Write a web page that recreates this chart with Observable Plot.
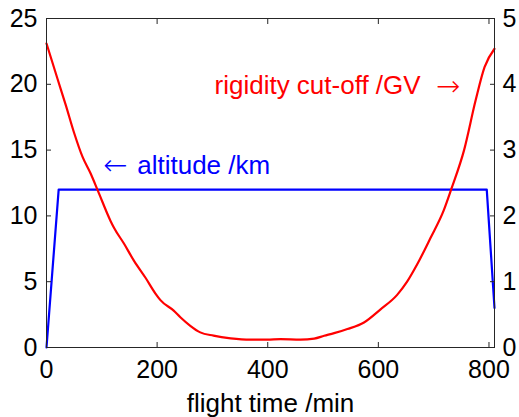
<!DOCTYPE html>
<html>
<head>
<meta charset="utf-8">
<script src="https://cdn.jsdelivr.net/npm/d3@7"></script>
<script src="https://cdn.jsdelivr.net/npm/@observablehq/plot@0.6"></script>
<style>
  html, body { margin: 0; padding: 0; background: #fff; }
  #chart { width: 519px; height: 417px; }
</style>
</head>
<body>
<div id="chart"></div>
<script>
// Flight altitude (km) vs flight time (min)
const altTime = [0, 22, 796, 810];
const altKm   = [0, 12, 12, 3.0];

// Rigidity cut-off (GV) vs flight time (min)
const rigTime = [0, 20, 35, 50, 65, 80, 93, 116, 122, 140, 158, 179, 197, 206, 230, 242, 260, 278, 302, 333, 369, 399, 423, 459, 484, 502, 520, 544, 574, 604, 634, 652, 670, 694, 718, 732, 755, 776, 792, 810];
const rigGV   = [4.62, 4.08, 3.68, 3.26, 2.9, 2.64, 2.38, 1.92, 1.82, 1.58, 1.32, 1.06, 0.82, 0.72, 0.56, 0.46, 0.33, 0.23, 0.18, 0.14, 0.12, 0.12, 0.128, 0.12, 0.136, 0.178, 0.218, 0.28, 0.38, 0.58, 0.8, 1.0, 1.26, 1.66, 2.08, 2.41, 3.0, 3.76, 4.26, 4.54];

const xTicks = [0, 200, 400, 600, 800];
const yLeftTicks = [0, 5, 10, 15, 20, 25];
const gvToKm = 5; // right axis 0–5 GV spans left axis 0–25 km

const altitude = altTime.map((t, i) => ({t, v: altKm[i]}));
const rigidity = rigTime.map((t, i) => ({t, v: rigGV[i]}));

const font = "'Liberation Sans', Arial, Helvetica, sans-serif";
const arrowFont = "'DejaVu Sans', sans-serif";

const chart = Plot.plot({
  width: 519,
  height: 417,
  marginLeft: 46,
  marginRight: 25,
  marginTop: 18,
  marginBottom: 70,
  style: {fontFamily: font, fontSize: "25px", background: "white", color: "#000"},
  x: {domain: [0, 810]},
  y: {domain: [0, 25]},
  marks: [
    Plot.line(altitude, {x: "t", y: "v", stroke: "#0000ff", strokeWidth: 2.2}),
    Plot.line(rigidity, {x: "t", y: d => d.v * gvToKm, stroke: "#ff0000", strokeWidth: 2.2, curve: "monotone-x"}),
    Plot.frame({stroke: "#262626"}),
    // inward ticks
    Plot.axisX(xTicks, {anchor: "bottom", tickSize: 5, dy: -5, fill: "none", label: null, stroke: "#262626"}),
    Plot.axisX(xTicks, {anchor: "top", tickSize: 5, dy: 5, fill: "none", label: null, stroke: "#262626"}),
    Plot.axisY(yLeftTicks, {anchor: "left", tickSize: 5, dx: 5, fill: "none", label: null, stroke: "#262626"}),
    Plot.axisY(yLeftTicks, {anchor: "right", tickSize: 5, dx: -5, fill: "none", label: null, stroke: "#262626"}),
    // tick labels
    Plot.axisX(xTicks, {anchor: "bottom", tickSize: 0, tickPadding: 13, label: null, fontSize: 25}),
    Plot.axisY(yLeftTicks, {anchor: "left", tickSize: 0, tickPadding: 9, label: null, fontSize: 25}),
    Plot.axisY(yLeftTicks, {anchor: "right", tickSize: 0, tickPadding: 8, label: null, fontSize: 25,
      tickFormat: d => String(d / gvToKm)}),
    // axis title
    Plot.text(["flight time /min"], {frameAnchor: "bottom", dy: 64, lineAnchor: "bottom", fontSize: 26, fill: "#000"}),
    // annotations
    Plot.text(["rigidity cut-off /GV"], {x: 676.5, y: 19.28, textAnchor: "end", lineAnchor: "bottom", fontSize: 26, fill: "#ff0000"}),
    Plot.text(["\u2192"], {x: 726, y: 19.79, textAnchor: "middle", lineAnchor: "middle", fontSize: 29, fontWeight: 300, fontFamily: arrowFont, fill: "#ff0000"}),
    Plot.text(["altitude /km"], {x: 164, y: 13.2, textAnchor: "start", lineAnchor: "bottom", fontSize: 26, fill: "#0000ff"}),
    Plot.text(["\u2190"], {x: 124.2, y: 13.83, textAnchor: "middle", lineAnchor: "middle", fontSize: 29, fontWeight: 300, fontFamily: arrowFont, fill: "#0000ff"})
  ]
});

document.getElementById("chart").appendChild(chart);
</script>
</body>
</html>
